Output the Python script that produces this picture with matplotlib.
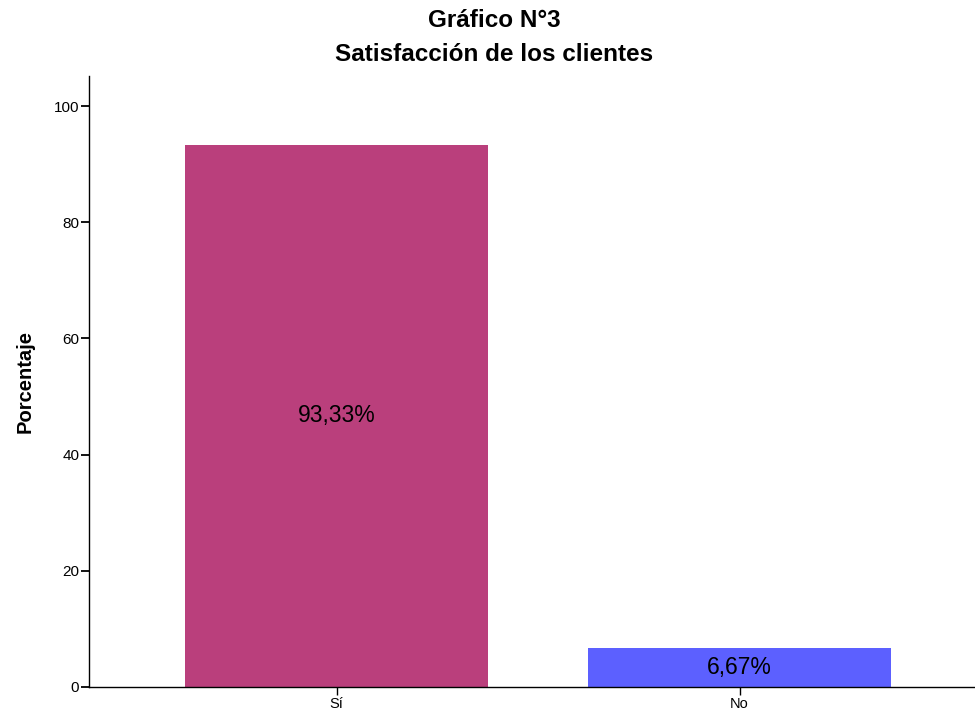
import matplotlib.pyplot as plt

categories = ["Sí", "No"]
values = [93.33, 6.67]
labels = ["93,33%", "6,67%"]
colors = ["#BA3F7C", "#5C60FF"]

plt.rcParams['font.family'] = ['Liberation Sans', 'DejaVu Sans']

fig = plt.figure(figsize=(9.75, 7.13), dpi=100)
ax = fig.add_axes([0.0913, 0.0365, 0.9087, 0.857])

x = range(len(categories))
ax.bar(x, values, width=0.752, color=colors)
for i, v in enumerate(values):
    ax.text(i, v / 2, labels[i], ha='center', va='center', fontsize=16.5, color='black')

ax.set_xlim(-0.614, 1.584)
ax.set_ylim(0, 105.2)
ax.set_xticks(list(x))
ax.set_xticklabels(categories, fontsize=10.5)
ax.set_yticks([0, 20, 40, 60, 80, 100])
ax.tick_params(axis='y', direction='out', length=6, width=1.3, labelsize=11, pad=1)
ax.tick_params(axis='x', direction='out', length=6, width=1.0, labelsize=10.5, pad=1)
ax.spines['top'].set_visible(False)
ax.spines['right'].set_visible(False)
ax.spines['left'].set_linewidth(1.0)
ax.spines['bottom'].set_linewidth(1.0)

ax.set_ylabel('Porcentaje', fontsize=14.5, fontweight='bold', labelpad=14)

fig.text(0.507, 0.971, 'Gráfico N°3', ha='center', va='center', fontsize=17.5, fontweight='bold')
fig.text(0.507, 0.924, 'Satisfacción de los clientes', ha='center', va='center', fontsize=17.5, fontweight='bold')

fig.savefig('out.png', dpi=100)
